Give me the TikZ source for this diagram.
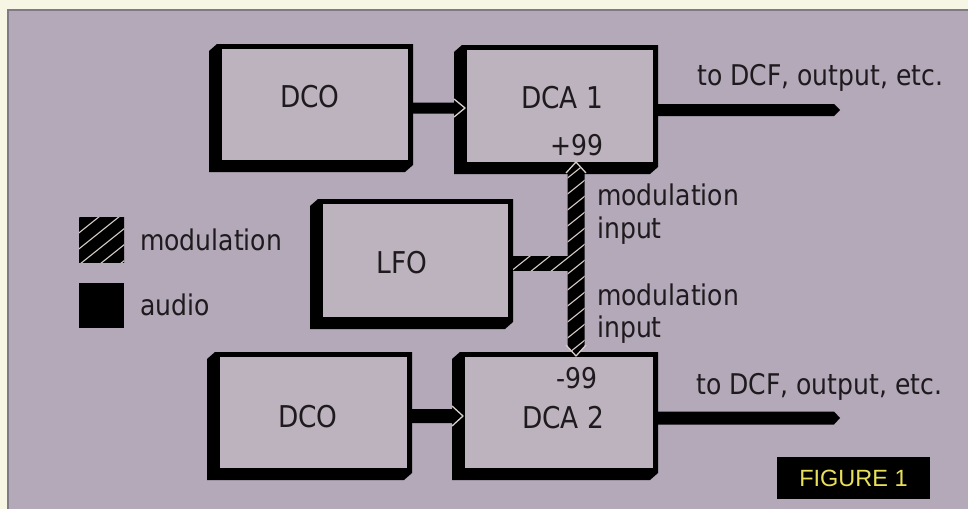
\documentclass[tikz,border=0pt]{standalone}
\usepackage{fontspec}
\newfontfamily\gfont[FakeStretch=0.88]{DejaVu Sans}
\newfontfamily\figfont{Liberation Sans}
\usetikzlibrary{calc}
\definecolor{cream}{HTML}{F7F5E3}
\definecolor{panel}{HTML}{B3A9B8}
\definecolor{panelline}{HTML}{7F7A85}
\definecolor{boxin}{HTML}{BDB3BE}
\definecolor{hatchc}{HTML}{D8CFCB}
\definecolor{figyel}{HTML}{E8E05A}
\definecolor{ink}{HTML}{1E1A1E}
\tikzset{
  frontbox/.style={draw=black, fill=boxin, line width=5pt, inner sep=0pt, rectangle},
  biglbl/.style={font=\gfont\fontsize{30}{32}\selectfont, text=ink, inner sep=0pt, anchor=base},
  smalllbl/.style={font=\gfont\fontsize{28.5}{30}\selectfont, text=ink, inner sep=0pt, anchor=base west},
  numlbl/.style={font=\gfont\fontsize{28.5}{30}\selectfont, text=ink, inner sep=0pt, anchor=base},
  hatchline/.style={draw=hatchc, line width=1.1pt},
  tipline/.style={draw=hatchc, line width=1.3pt, line join=round},
  legsq/.style={fill=black, minimum width=45pt, minimum height=45pt, inner sep=0pt, outer sep=0pt},
}
\newcommand\synthbox[5]{%
  \fill[black] ({#2-8},{#3+7}) -- (#2,#3) -- (#4,#3) -- (#4,#5) -- ({#4-8},{#5+7}) -- ({#2-8},{#5+7}) -- cycle;
  \node[frontbox, minimum width={#4-#2-5}, minimum height={#5-#3-5}] (#1) at ({(#2+#4)/2},{(#3+#5)/2}) {};
}
\newcommand\hatchfill{%
  \fill[black] (0,0) rectangle (968,509);
  \foreach \c in {-440,-420,...,320} \draw[hatchline] (\c,600) -- ++(750,-600);
}
\begin{document}
\begin{tikzpicture}[x=1pt,y=-1pt]
\useasboundingbox (0,0) rectangle (968,509);
\fill[cream] (0,0) rectangle (968,509);
\fill[panel] (8,10) rectangle (968,509);
\draw[panelline, line width=1.5pt] (8,509) -- (8,10) -- (968,10);

% boxes
\synthbox{dco1}{217}{44}{413}{165}
\synthbox{dca1}{462}{45}{658}{167}
\synthbox{lfo}{318}{199}{513}{322}
\synthbox{dco2}{215}{352}{412}{473}
\synthbox{dca2}{460}{352}{658}{473}

% labels in boxes
\node[biglbl] (tdco1) at (310,107) {DCO};
\node[biglbl] (tdca1) at (562,108) {DCA 1};
\node[numlbl] (tp99) at (577,155) {+99};
\node[biglbl] (tlfo) at (402,273) {LFO};
\node[biglbl] (tdco2) at (308,427) {DCO};
\node[biglbl] (tdca2) at (563,428) {DCA 2};
\node[numlbl] (tm99) at (577,388) {-99};

% audio connections
\coordinate (a1) at ([yshift=-3.5pt]dco1.east);
\fill[black] (a1) ++(0,-5.5) -- ++(42,0) -- ++(9,5.5) -- ++(-9,5.5) -- ++(-42,0) -- cycle;
\draw[tipline] (a1) ++(41,-9) -- ++(11,9) -- ++(-11,9);
\coordinate (a2) at ([yshift=-3.5pt]dco2.east);
\fill[black] (a2) ++(0,-7) -- ++(41,0) -- ++(9,7) -- ++(-9,7) -- ++(-41,0) -- cycle;
\draw[tipline] (a2) ++(40,-10) -- ++(11,10) -- ++(-11,10);

% outputs
\coordinate (o1) at ([yshift=-4pt]dca1.east);
\coordinate (o1e) at (840,110);
\fill[black] ($(o1)+(0,-6)$) -- ($(o1e)+(-6,-6)$) -- (o1e) -- ($(o1e)+(-6,6)$) -- ($(o1)+(0,6)$) -- cycle;
\coordinate (o2) at ([yshift=-5.5pt]dca2.east);
\coordinate (o2e) at (840,418);
\fill[black] ($(o2)+(0,-6.5)$) -- ($(o2e)+(-6,-6.5)$) -- (o2e) -- ($(o2e)+(-6,6.5)$) -- ($(o2)+(0,6.5)$) -- cycle;

\node[smalllbl] (to1) at (697,85) {to DCF, output, etc.};
\node[smalllbl] (to2) at (696,394) {to DCF, output, etc.};

% modulation connections
\coordinate (mtop) at ([xshift=16pt,yshift=4pt]dca1.south);
\coordinate (mbot) at ([xshift=17pt,yshift=-3pt]dca2.north);
\begin{scope}
  \clip ($(mtop)+(-8.5,9)$) -- (mtop) -- ($(mtop)+(8.5,9)$) -- ($(mbot)+(8.5,-9)$) -- (mbot) -- ($(mbot)+(-8.5,-9)$) -- cycle;
  \hatchfill
\end{scope}
\draw[tipline] ($(mtop)+(-10,10)$) -- ($(mtop)+(0,-1)$) -- ($(mtop)+(10,10)$);
\draw[tipline] ($(mbot)+(-10,-10)$) -- ($(mbot)+(0,1)$) -- ($(mbot)+(10,-10)$);
\begin{scope}
  \clip ($(lfo.east)+(0,-4.5)$) rectangle ($(lfo.east)+(57,9.5)$);
  \hatchfill
\end{scope}

\node[smalllbl] (mi1a) at (597,205) {modulation};
\node[smalllbl] (mi1b) at (597,238) {input};
\node[smalllbl] (mi2a) at (597,305) {modulation};
\node[smalllbl] (mi2b) at (597,337) {input};

% legend
\node[legsq] (legmod) at (101.5,239.5) {};
\begin{scope}
  \clip (legmod.north west) rectangle (legmod.south east);
  \hatchfill
\end{scope}
\node[legsq] (legaud) at (101.5,305.5) {};
\node[smalllbl] (tlegmod) at (140,250) {modulation};
\node[smalllbl] (tlegaud) at (140,315) {audio};

% figure label
\node[fill=black, minimum width=153pt, minimum height=42pt, inner sep=0pt, text=figyel,
      font=\figfont\fontsize{23.5}{25}\selectfont] (fig) at (853.5,478) {FIGURE 1};
\end{tikzpicture}
\end{document}
